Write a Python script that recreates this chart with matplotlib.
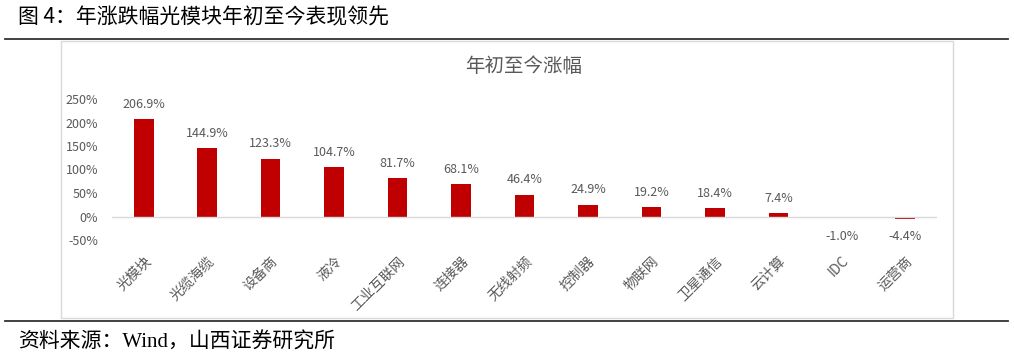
import matplotlib.pyplot as plt
from matplotlib.lines import Line2D
from matplotlib.patches import Rectangle

plt.rcParams['font.family'] = ['Noto Sans CJK SC', 'DejaVu Sans']

# 数据
cats = ['光模块', '光缆海缆', '设备商', '液冷', '工业互联网', '连接器', '无线射频',
        '控制器', '物联网', '卫星通信', '云计算', 'IDC', '运营商']
vals = [206.9, 144.9, 123.3, 104.7, 81.7, 68.1, 46.4, 24.9, 19.2, 18.4, 7.4, -1.0, -4.4]
yticks = [-50, 0, 50, 100, 150, 200, 250]

W, H = 1014, 361
fig = plt.figure(figsize=(W / 100, H / 100), dpi=100)


def fy(py):
    return 1 - py / H


# 页眉标题与分隔线
fig.text(18 / W, fy(17), '图 4：年涨跌幅光模块年初至今表现领先', fontsize=15,
         color='#000000', va='center', ha='left')
fig.add_artist(Line2D([5 / W, 1008 / W], [fy(39), fy(39)], color='#333333', lw=1.3,
                      transform=fig.transFigure))
fig.add_artist(Line2D([5 / W, 1008 / W], [fy(321), fy(321)], color='#333333', lw=1.3,
                      transform=fig.transFigure))
fig.text(18 / W, fy(343), '资料来源：Wind，山西证券研究所', fontsize=15,
         family=['Liberation Serif', 'Noto Sans CJK SC'], va='center', ha='left')

# 图表外框
fig.add_artist(Rectangle((61 / W, fy(318)), (953 - 61) / W, (318 - 41) / H,
                         transform=fig.transFigure, fill=False, edgecolor='#D9D9D9', lw=1))
fig.text(524 / W, fy(67), '年初至今涨幅', fontsize=14, color='#595959', ha='center', va='center')

ax = fig.add_axes([112 / W, fy(240), (937 - 112) / W, (240 - 99) / H])
x = list(range(len(cats)))
ax.bar(x, vals, width=0.31, color='#C00000')
ax.set_xlim(-0.5, len(cats) - 0.5)
ax.set_ylim(-50, 250)
ax.axhline(0, color='#D9D9D9', lw=1)

for xi, v in zip(x, vals):
    if v >= 0:
        ax.annotate(f'{v:.1f}%', (xi, v), xytext=(0, 6), textcoords='offset points',
                    ha='center', va='bottom', fontsize=9, color='#595959')
    else:
        ax.annotate(f'{v:.1f}%', (xi, min(v, -4.4)), xytext=(0, -8), textcoords='offset points',
                    ha='center', va='top', fontsize=9, color='#595959')

ax.set_yticks(yticks)
ax.set_yticklabels([f'{t}%' for t in yticks], fontsize=9, color='#595959')
ax.set_xticks(x)
ax.set_xticklabels(cats, rotation=45, ha='right', rotation_mode='anchor',
                   fontsize=10, color='#595959')
ax.tick_params(length=0)
ax.tick_params(axis='x', pad=10)
ax.tick_params(axis='y', pad=10)
for s in ax.spines.values():
    s.set_visible(False)

fig.savefig('out.png', dpi=100)
